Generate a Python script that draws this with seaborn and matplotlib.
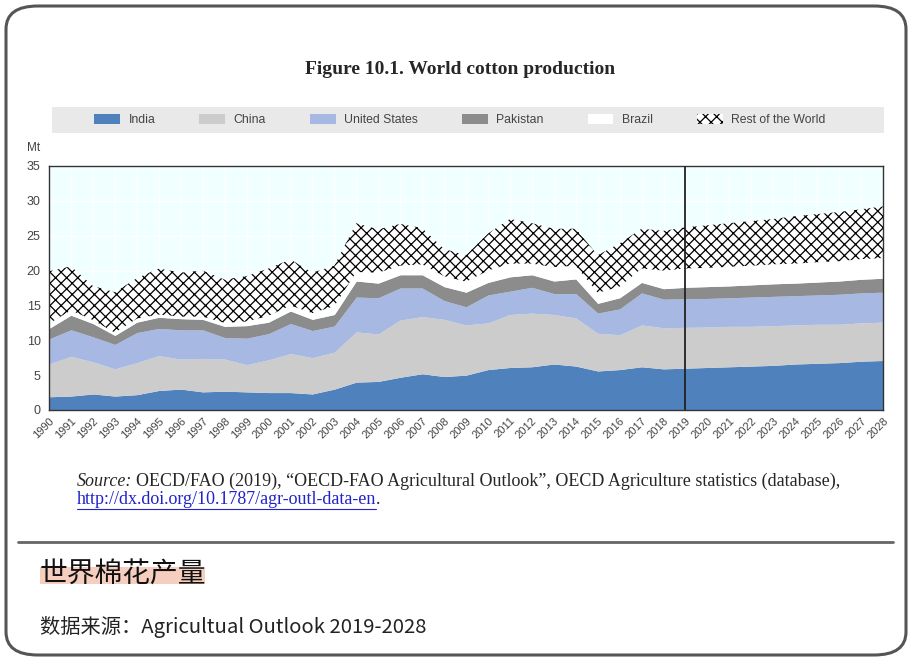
import numpy as np
import pandas as pd
import matplotlib
matplotlib.use("Agg")
import matplotlib.pyplot as plt
import seaborn as sns
from matplotlib.patches import Rectangle, FancyBboxPatch, Patch
from matplotlib.lines import Line2D

# ---------------- data (Mt) ----------------
years = list(range(1990, 2029))
india = [1.9, 2.0, 2.3, 2.0, 2.2, 2.8, 3.0, 2.6, 2.7, 2.6,
         2.5, 2.5, 2.3, 3.0, 4.0, 4.1, 4.7, 5.2, 4.8, 5.0,
         5.8, 6.1, 6.2, 6.6, 6.3, 5.6, 5.8, 6.2, 5.9, 6.0,
         6.1, 6.2, 6.3, 6.4, 6.6, 6.7, 6.8, 7.0, 7.1]
china = [4.7, 5.7, 4.6, 3.9, 4.6, 5.0, 4.3, 4.8, 4.6, 3.9,
         4.7, 5.6, 5.2, 5.3, 7.2, 6.8, 8.2, 8.2, 8.2, 7.2,
         6.7, 7.6, 7.7, 7.1, 6.9, 5.4, 5.0, 6.0, 5.9, 5.85,
         5.8, 5.8, 5.7, 5.7, 5.6, 5.6, 5.5, 5.5, 5.5]
united_states = [3.6, 3.8, 3.6, 3.5, 4.3, 3.9, 4.2, 4.1, 3.1, 3.8,
                 3.75, 4.3, 3.9, 3.75, 5.0, 5.2, 4.6, 4.1, 2.7, 2.6,
                 4.0, 3.35, 3.7, 3.0, 3.5, 2.9, 3.7, 4.6, 4.1, 4.1,
                 4.1, 4.1, 4.2, 4.2, 4.2, 4.2, 4.3, 4.3, 4.3]
pakistan = [1.5, 2.1, 1.9, 1.3, 1.5, 1.6, 1.6, 1.5, 1.6, 1.8,
            1.65, 1.8, 1.6, 1.65, 2.3, 2.1, 1.9, 1.9, 2.0, 2.1,
            1.8, 2.05, 1.8, 1.8, 2.1, 1.4, 1.6, 1.5, 1.5, 1.65,
            1.7, 1.7, 1.75, 1.8, 1.8, 1.85, 1.9, 1.95, 2.0]
brazil = [0.7, 0.7, 0.5, 0.4, 0.5, 0.4, 0.3, 0.4, 0.5, 0.6,
          0.9, 0.8, 0.9, 1.2, 1.3, 1.5, 1.3, 1.5, 1.5, 1.5,
          1.7, 1.9, 1.6, 2.0, 1.9, 1.5, 1.6, 2.0, 2.6, 2.7,
          2.7, 2.75, 2.75, 2.8, 2.8, 2.85, 2.85, 2.9, 2.9]
rest_of_world = [7.5, 6.3, 4.9, 5.8, 5.8, 6.6, 6.3, 6.6, 6.2, 6.5,
                 6.8, 6.6, 5.8, 5.8, 7.0, 6.2, 6.0, 5.2, 3.9, 3.8,
                 5.3, 6.4, 5.8, 5.5, 5.3, 5.4, 6.2, 5.7, 5.7, 5.9,
                 6.1, 6.25, 6.4, 6.5, 6.8, 6.9, 7.05, 7.15, 7.4]
series_names = ["India", "China", "United States", "Pakistan", "Brazil", "Rest of the World"]
y_ticks = [0, 5, 10, 15, 20, 25, 30, 35]
projection_start = 2019

df = pd.DataFrame({"Year": years, "India": india, "China": china,
                   "United States": united_states, "Pakistan": pakistan,
                   "Brazil": brazil, "Rest of the World": rest_of_world})

# ---------------- style ----------------
sns.set_style("white")
plt.rcParams['font.family'] = ['Liberation Sans', 'DejaVu Sans']
plt.rcParams['hatch.color'] = 'black'
plt.rcParams['hatch.linewidth'] = 0.9
colors = sns.color_palette(['#4F81BD', '#CCCCCC', '#A7B9E3', '#8C8C8C', '#FFFFFF', '#FFFFFF'])

W, H = 912, 661
fig = plt.figure(figsize=(W / 100, H / 100), dpi=100)
fig.patch.set_facecolor('white')


def fx(x):
    return x / W


def fy(y):
    return 1 - y / H


# outer rounded frame
frame = FancyBboxPatch((fx(6), fy(655)), fx(900), fy(6) - fy(655),
                       boxstyle="round,pad=0,rounding_size=0.035",
                       transform=fig.transFigure, facecolor='none',
                       edgecolor='#555555', linewidth=2.2, zorder=0)
fig.patches.append(frame)

# ---------------- axes ----------------
ax = fig.add_axes([fx(49), fy(410), fx(883) - fx(49), fy(166) - fy(410)])
ax.set_facecolor('#F0FFFF')
polys = ax.stackplot(df["Year"], df[series_names].T.values, colors=colors,
                     linewidth=0, zorder=2)
polys[-1].set_hatch('xxx')
polys[-1].set_edgecolor('black')
polys[-1].set_linewidth(0)

ax.axvline(projection_start, color='#222222', lw=1.3, zorder=3)
ax.set_xlim(years[0], years[-1])
ax.set_ylim(0, 35)
ax.set_xticks(years)
ax.set_xticklabels([str(y) for y in years], rotation=45, ha='right',
                   rotation_mode='anchor', fontsize=8, color='#444444')
ax.set_yticks(y_ticks)
ax.set_yticklabels([str(v) for v in y_ticks], fontsize=9, color='#444444')
ax.tick_params(axis='both', direction='in', length=3, width=0.8, color='#333333')
ax.tick_params(axis='x', pad=4)
ax.tick_params(axis='y', pad=6)
ax.grid(True, color='white', linewidth=1.0)
ax.set_axisbelow(True)
for s in ax.spines.values():
    s.set_visible(True)
    s.set_color('#333333')
    s.set_linewidth(1.0)

fig.text(fx(34), fy(148), "Mt", fontsize=8.5, color='#444444', ha='center', va='center')

# ---------------- title ----------------
fig.text(fx(460), fy(69), "Figure 10.1. World cotton production",
         fontsize=14, fontweight='bold', family=['Liberation Serif', 'DejaVu Serif'],
         ha='center', va='center')

# ---------------- legend ----------------
band = Rectangle((fx(52), fy(133)), fx(884) - fx(52), fy(107) - fy(133),
                 transform=fig.transFigure, facecolor='#E9E9E9', edgecolor='none', zorder=0)
fig.patches.append(band)
handles = []
for name, c in zip(series_names[:-1], colors[:-1]):
    handles.append(Patch(facecolor=c, edgecolor='none', label=name))
handles.append(Patch(facecolor='white', edgecolor='black', hatch='xxx', linewidth=0,
                     label=series_names[-1]))
leg = fig.legend(handles=handles, loc='center', bbox_to_anchor=(fx(460), fy(120)),
                 ncol=6, frameon=False, fontsize=8.8, handlelength=2.1, handleheight=0.9,
                 handletextpad=0.7, columnspacing=3.6)
for t in leg.get_texts():
    t.set_color('#444444')

# ---------------- source text ----------------
serif = ['Liberation Serif', 'DejaVu Serif']
fig.canvas.draw()
renderer = fig.canvas.get_renderer()


def put(x_px, y_px, s, **kw):
    t = fig.text(fx(x_px), fy(y_px), s, ha='left', va='center', **kw)
    bb = t.get_window_extent(renderer)
    return t, bb


t1, bb1 = put(77, 481, "Source:", fontsize=13, family=serif, style='italic')
put(77 + bb1.width + 4, 481,
    "OECD/FAO (2019), \u201cOECD-FAO Agricultural Outlook\u201d, OECD Agriculture statistics (database),",
    fontsize=13, family=serif)
t3, bb3 = put(77, 500, "http://dx.doi.org/10.1787/agr-outl-data-en", fontsize=13,
              family=serif, color='#2222CC')
fig.add_artist(Line2D([fx(77), fx(77 + bb3.width)], [fy(508.5), fy(508.5)],
                      transform=fig.transFigure, color='#2222CC', lw=0.8))
put(77 + bb3.width, 500, ".", fontsize=13, family=serif)

# separator
fig.add_artist(Line2D([fx(18), fx(893)], [fy(542), fy(542)], transform=fig.transFigure,
                      color='#666666', lw=2))

# Chinese caption with highlight
hl = Rectangle((fx(40), fy(584)), fx(205) - fx(40), fy(567) - fy(584),
               transform=fig.transFigure, facecolor='#F5CEBF', edgecolor='none', zorder=0)
fig.patches.append(hl)
cjk = ['Noto Sans CJK SC', 'DejaVu Sans']
fig.text(fx(40), fy(575), "世界棉花产量", fontsize=20, family=cjk, ha='left', va='center',
         color='#111111', zorder=2)
fig.text(fx(40), fy(627), "数据来源：Agricultual Outlook 2019-2028", fontsize=14.6, family=cjk,
         ha='left', va='center', color='#222222')

fig.savefig("out.png", dpi=100)
